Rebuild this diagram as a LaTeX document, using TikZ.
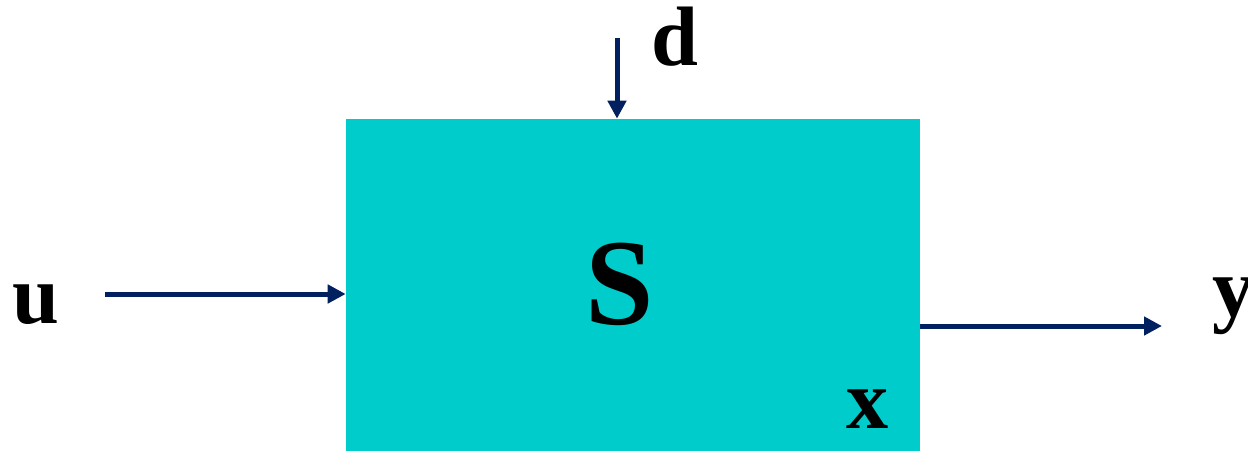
\documentclass[tikz,border=0pt]{standalone}
\usepackage{fontspec}
\setmainfont{Liberation Serif}
\usetikzlibrary{arrows.meta}
\definecolor{boxcyan}{RGB}{0,204,204}
\definecolor{signavy}{RGB}{0,32,96}
\begin{document}
\begin{tikzpicture}[x=0.02cm, y=-0.02cm,
  sig/.style={draw=signavy, line width=0.1cm, -{Triangle[length=0.36cm, width=0.36cm]}},
  letter/.style={anchor=base, inner sep=0pt, font=\fontsize{48}{48}\selectfont\bfseries}]
\useasboundingbox (0,0) rectangle (1248,451);
\node[fill=boxcyan, inner sep=0pt, minimum width=11.48cm, minimum height=6.64cm] (sys) at (633,285) {};
\node[letter, font=\fontsize{70}{70}\selectfont\bfseries] (name) at (620,324) {S};
\node[letter] (state) at (868,428) {x};
\node[letter] (uin) at (36,323) {u};
\node[letter] (dist) at (675,65) {d};
\node[letter] (yout) at (1234,316) {y};
\coordinate (utail) at (105,294);
\coordinate (dtail) at (617,38);
\coordinate (yhead) at (1162,326);
\draw[sig] (utail) -- (utail -| sys.west);
\draw[sig] (dtail) -- (dtail |- sys.north);
\draw[sig] (sys.east |- yhead) -- (yhead);
\end{tikzpicture}
\end{document}
